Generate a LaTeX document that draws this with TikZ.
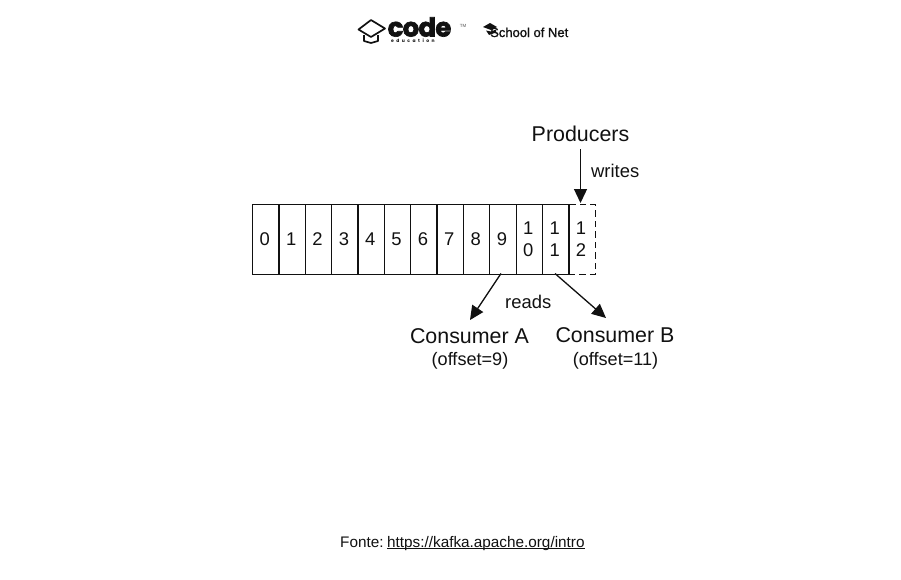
\documentclass[tikz,border=0pt]{standalone}
\usepackage{fontspec}
\setmainfont{Liberation Sans}
\newfontfamily\logofont{Poppins}
\usetikzlibrary{arrows.meta}
\definecolor{ink}{HTML}{111111}
\tikzset{
  x=1pt,y=-1pt,
  cellbox/.style={draw=ink,line width=1.3pt,minimum width=26.35pt,minimum height=69.5pt,inner sep=0pt,anchor=north west,align=center,font=\fontsize{18.4}{22}\selectfont,text=ink},
  dashbox/.style={cellbox,dash pattern=on 6.5pt off 4pt},
  celltext/.style={inner sep=0pt,align=center,font=\fontsize{18.4}{22}\selectfont,text=ink},
  arrowline/.style={draw=ink,line width=1.3pt,-{Triangle[length=14pt,width=13pt]}},
  big/.style={inner sep=0pt,text=ink,font=\fontsize{21.4}{24}\selectfont},
  mid/.style={inner sep=0pt,text=ink,font=\fontsize{18.4}{22}\selectfont},
  small/.style={inner sep=0pt,text=ink,font=\fontsize{18.1}{20}\selectfont},
}
\begin{document}
\begin{tikzpicture}
\useasboundingbox (0,0) rectangle (901,579);
\fill[white] (0,0) rectangle (901,579);
% logo
\draw[ink,line width=1.7pt,line join=round] (358.5,29.5) -- (371,20) -- (385,28.5) -- (371,37) -- cycle;
\draw[ink,line width=1.7pt,line join=round] (364,35) -- (364,41) -- (371,43) -- (378,41) -- (378,35);
\node[inner sep=0pt,anchor=base west,text=ink] (logocode) at (387.5,36.5) {\logofont\fontsize{26}{26}\selectfont\bfseries\addfontfeature{FakeBold=2.5,LetterSpace=-3}code};
\node[inner sep=0pt,anchor=base west,text=ink] (logoedu) at (391,42.5) {\logofont\fontsize{4.5}{5}\selectfont\bfseries\addfontfeature{LetterSpace=55}education};
\node[inner sep=0pt,text=ink!70] (logotm) at (463,26) {\fontsize{4.5}{5}\selectfont TM};
\fill[ink] (483,27) -- (490,23) -- (497,27) -- (491,30) -- cycle;
\fill[ink] (486,30.5) -- (491,31.5) -- (496,29.5) -- (496,32.5) -- (489,35) -- cycle;
\node[inner sep=0pt,anchor=base west,text=ink] (logosch) at (490,37) {\fontsize{13}{14}\selectfont\addfontfeature{FakeBold=1.2}School of Net};
% cells
\foreach \i in {0,...,11}{
  \node[cellbox] (c\i) at ({252+26.35*\i},204) {};
}
\node[dashbox] (c12) at ({252+26.35*12},204) {};
\draw[ink,line width=1.3pt] (c11.north east) -- (c11.south east);
\foreach \i/\t in {0/0,1/1,2/2,3/3,4/4,5/5,6/6,7/7,8/8,9/9,10/{1\\0},11/{1\\1},12/{1\\2}}{
  \node[celltext] (t\i) at ([xshift=-1pt]c\i.center) {\t};
}
% labels
\node[big,anchor=base] (prod) at (580.5,141) {Producers};
\node[mid,anchor=base west] (writes) at (591,177) {writes};
\node[mid,anchor=base west] (reads) at (505,308) {reads};
\node[big,anchor=base] (ca) at (469.5,343) {Consumer A};
\node[big,anchor=base] (cb) at (615,342.5) {Consumer B};
\node[small,anchor=base] (oa) at (470,365) {(offset=9)};
\node[small,anchor=base] (ob) at (615.5,365) {(offset=11)};
% connectors
\coordinate (pe) at (580.5,203);
\coordinate (as) at (501,273.5);
\coordinate (ae) at (470,320);
\coordinate (bs) at (555,273.5);
\coordinate (be) at (606,318);
\draw[arrowline] (prod.south -| pe) ++(0,8) -- (pe);
\draw[arrowline] (as) -- (ae);
\draw[arrowline] (bs) -- (be);
% footer
\node[inner sep=0pt,anchor=base west,text=ink] (src) at (340,547) {\fontsize{15.3}{18}\selectfont Fonte:};
\node[inner sep=0pt,anchor=base west,text=ink] (url) at (387,547) {\fontsize{15.3}{18}\selectfont https://kafka.apache.org/intro};
\draw[ink,line width=1pt] ([yshift=-1.6pt]url.base west) -- ([yshift=-1.6pt]url.base east);
\end{tikzpicture}
\end{document}
